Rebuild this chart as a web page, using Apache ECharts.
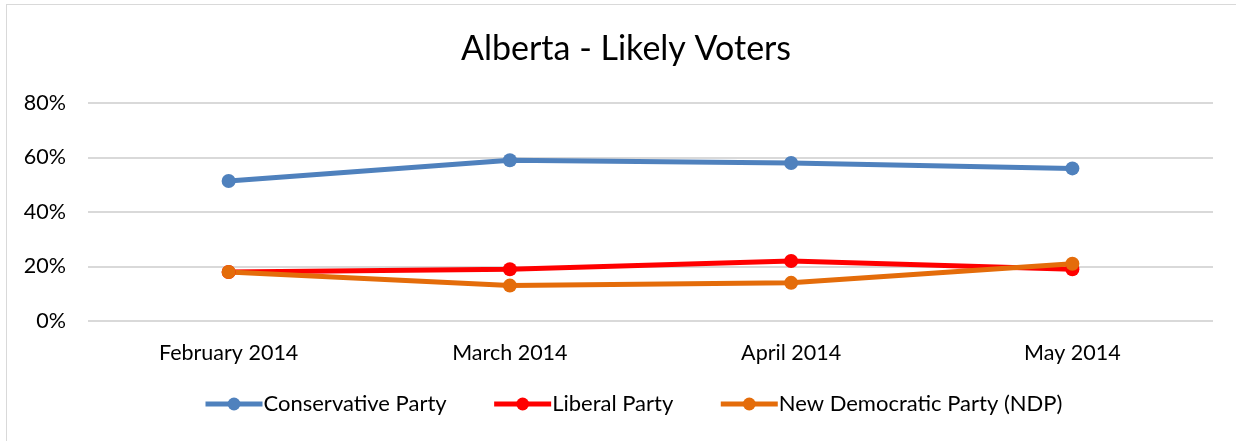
<!DOCTYPE html>
<html>
<head>
<meta charset="utf-8">
<script src="https://cdn.jsdelivr.net/npm/echarts@6/dist/echarts.min.js"></script>
<style>
  html, body { margin: 0; padding: 0; background: #fff; }
  #frame { position: absolute; left: 6px; top: 4px; width: 1300px; height: 500px; border-left: 1px solid #d9d9d9; border-top: 1px solid #d9d9d9; }
  #chart { position: absolute; left: 0; top: 0; width: 1236px; height: 441px; }
</style>
</head>
<body>
<div id="frame"></div>
<div id="chart"></div>
<script>
const categories = ['February 2014', 'March 2014', 'April 2014', 'May 2014'];
const conservative = [51.4, 59, 58, 56];
const liberal = [18, 19, 22, 19];
const ndp = [18, 13, 14, 21];
const yTicks = [0, 20, 40, 60, 80];

const FONT = 'Lato, "Open Sans", sans-serif';
const chart = echarts.init(document.getElementById('chart'), null, { renderer: 'canvas' });
function mk(name, data, color) {
  return {
    name: name, type: 'line', data: data,
    symbol: 'circle', symbolSize: 14,
    lineStyle: { width: 5, color: color },
    itemStyle: { color: color },
    animation: false
  };
}
chart.setOption({
  backgroundColor: 'transparent',
  title: {
    text: 'Alberta - Likely Voters', left: 456, top: 27,
    textStyle: { fontFamily: FONT, fontSize: 34, fontWeight: 'normal', color: '#000' }
  },
  legend: {
    bottom: 21, left: 198, itemWidth: 57, itemHeight: 16, itemGap: 45,
    lineStyle: { width: 5 },
    textStyle: { fontFamily: FONT, fontSize: 22, color: '#000', padding: [0, 0, 0, -4] },
    data: ['Conservative Party', 'Liberal Party', 'New Democratic Party (NDP)']
  },
  grid: { left: 88, right: 23, top: 103, bottom: 120, containLabel: false },
  xAxis: {
    type: 'category', data: categories, boundaryGap: true,
    axisLine: { show: false }, axisTick: { show: false },
    axisLabel: { fontFamily: FONT, fontSize: 21.5, color: '#000', margin: 21 }
  },
  yAxis: {
    type: 'value', min: yTicks[0], max: yTicks[yTicks.length - 1], interval: 20,
    axisLine: { show: false }, axisTick: { show: false },
    axisLabel: { fontFamily: FONT, fontSize: 21.5, color: '#000', margin: 22, formatter: '{value}%' },
    splitLine: { lineStyle: { color: '#d9d9d9', width: 2 } }
  },
  series: [
    mk('Conservative Party', conservative, '#4F81BD'),
    mk('Liberal Party', liberal, '#FF0000'),
    mk('New Democratic Party (NDP)', ndp, '#E46C0A')
  ]
});
</script>
</body>
</html>
